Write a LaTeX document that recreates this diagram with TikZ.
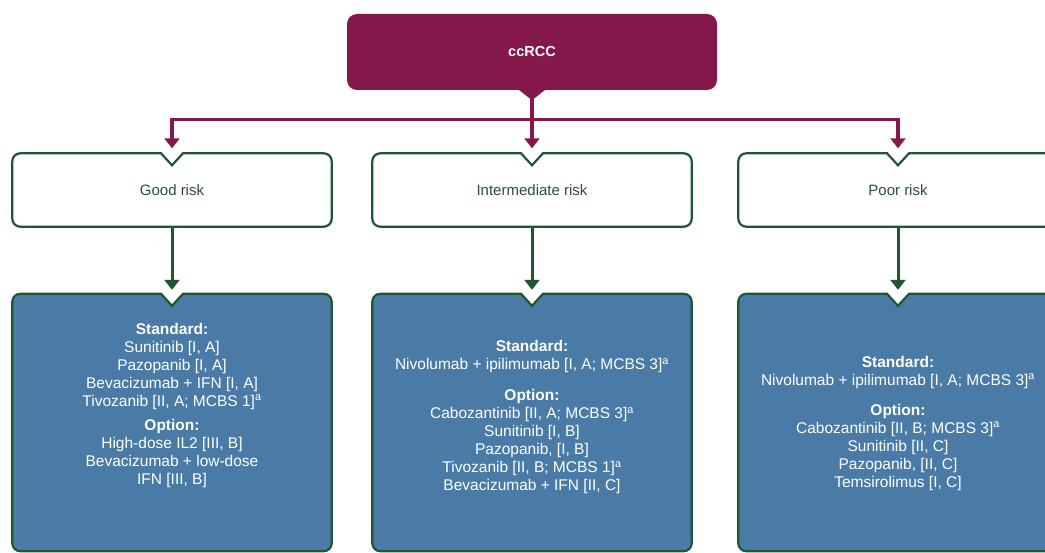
\documentclass[tikz,border=0pt]{standalone}
\usepackage{fontspec}
\setmainfont{Liberation Sans}
\usetikzlibrary{arrows.meta,backgrounds,calc}

\definecolor{ccpurple}{HTML}{85184A}
\definecolor{riskgreen}{HTML}{1F5733}
\definecolor{risktext}{HTML}{2D4F38}
\definecolor{treatblue}{HTML}{4A7BA6}

% rounded frame with a sharp V notch in the middle of its top edge
\newcommand{\notchframe}[2]{%
  \path[frame, rounded corners=8pt, #2] (#1.north west) rectangle (#1.south east);
  \fill[white] ($(#1.north)+(-10,-1.6)$) -- ($(#1.north)+(10,-1.6)$)
    -- ($(#1.north)+(10,0)$) -- ($(#1.north)+(0,12)$) -- ($(#1.north)+(-10,0)$) -- cycle;
  \draw[frame, line join=miter] ($(#1.north)+(-11,0)$) -- ($(#1.north)+(0,12)$)
    -- ($(#1.north)+(11,0)$);}

\tikzset{
  headbox/.style={fill=ccpurple, rounded corners=10pt, minimum width=370pt,
    minimum height=76pt, inner sep=0pt, text=white, font=\fontsize{14.5}{16}\selectfont\bfseries},
  riskbox/.style={minimum width=319pt, minimum height=73pt, inner sep=0pt,
    text=risktext, font=\fontsize{15}{17}\selectfont},
  treatbox/.style={minimum width=319pt, minimum height=257pt, inner sep=0pt},
  treattext/.style={align=center, text=white, inner sep=0pt,
    font=\fontsize{15.5}{18}\selectfont},
  frame/.style={draw=riskgreen, line width=2.2pt},
  parrow/.style={draw=ccpurple, line width=3.2pt,
    -{Triangle[width=15pt,length=10pt]}, shorten >=5pt},
  garrow/.style={draw=riskgreen, line width=3pt,
    -{Triangle[width=15pt,length=10pt]}, shorten >=4pt},
}

\begin{document}
\begin{tikzpicture}[x=1pt,y=-1pt]
  \useasboundingbox (0,0) rectangle (1045,553);
  \clip (0,0) rectangle (1045,553);

  % root
  \node[headbox] (cc) at (532,52) {ccRCC};
  \fill[ccpurple] ($(cc.south)+(-14,-1)$) -- ($(cc.south)+(0,10)$) -- ($(cc.south)+(14,-1)$) -- cycle;
  \coordinate (hub) at ($(cc.south)+(0,29)$);

  % risk groups
  \node[riskbox] (r1) at (172,190) {Good risk};
  \node[riskbox] (r2) at (532,190) {Intermediate risk};
  \node[riskbox] (r3) at (898,190) {Poor risk};

  % treatment boxes
  \node[treatbox] (t1) at (172,422.5) {};
  \node[treatbox] (t2) at (532,422.5) {};
  \node[treatbox] (t3) at (898,422.5) {};

  \node[treattext] (x1) at (172,405) {%
    \textbf{Standard:}\\ Sunitinib [I, A]\\ Pazopanib [I, A]\\
    Bevacizumab + IFN [I, A]\\ Tivozanib [II, A; MCBS 1]\textsuperscript{a}\\[6pt]
    \textbf{Option:}\\ High-dose IL2 [III, B]\\ Bevacizumab + low-dose\\ IFN [III, B]};
  \node[treattext] (x2) at (532,417) {%
    \textbf{Standard:}\\ Nivolumab + ipilimumab [I, A; MCBS 3]\textsuperscript{a}\\[13pt]
    \textbf{Option:}\\ Cabozantinib [II, A; MCBS 3]\textsuperscript{a}\\ Sunitinib [I, B]\\
    Pazopanib, [I, B]\\ Tivozanib [II, B; MCBS 1]\textsuperscript{a}\\ Bevacizumab + IFN [II, C]};
  \node[treattext] (x3) at (898,423) {%
    \textbf{Standard:}\\ Nivolumab + ipilimumab [I, A; MCBS 3]\textsuperscript{a}\\[12pt]
    \textbf{Option:}\\ Cabozantinib [II, B; MCBS 3]\textsuperscript{a}\\ Sunitinib [II, C]\\
    Pazopanib, [II, C]\\ Temsirolimus [I, C]};

  \begin{scope}[on background layer]
    \clip (0,0) rectangle (1045,553);
    \fill[white] (0,0) rectangle (1045,553);
    \notchframe{r1}{fill=white}
    \notchframe{r2}{fill=white}
    \notchframe{r3}{fill=white}
    \notchframe{t1}{fill=treatblue}
    \notchframe{t2}{fill=treatblue}
    \notchframe{t3}{fill=treatblue}
  \end{scope}

  % connectors
  \draw[parrow] (cc.south) -- (r2.north);
  \draw[parrow] (hub) -| (r1.north);
  \draw[parrow] (hub) -| (r3.north);
  \draw[garrow] (r1.south) -- (t1.north);
  \draw[garrow] (r2.south) -- (t2.north);
  \draw[garrow] (r3.south) -- (t3.north);
\end{tikzpicture}
\end{document}
